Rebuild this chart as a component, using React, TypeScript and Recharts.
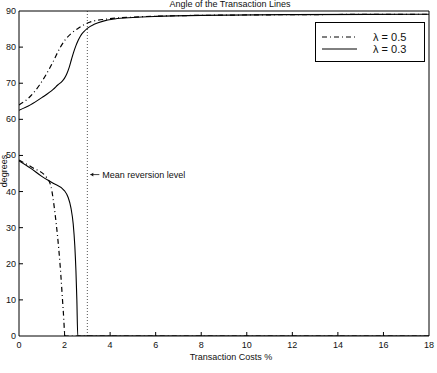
import React from "react";
import {
  ComposedChart,
  Line,
  XAxis,
  YAxis,
  ReferenceLine,
  Legend,
} from "recharts";

const xTicks = [0, 2, 4, 6, 8, 10, 12, 14, 16, 18];
const yTicks = [0, 10, 20, 30, 40, 50, 60, 70, 80, 90];
const meanReversionCost = 3;

// upper transaction line, lambda = 0.3 (solid)
const upperCosts03 = [0, 0.5, 1, 1.5, 1.7, 1.9, 2.0, 2.1, 2.2, 2.3, 2.4, 2.5, 2.6, 2.7, 2.85, 3.0, 3.3, 3.7, 4.2, 5, 6, 8, 12, 18];
const upperAngles03 = [62.5, 64, 66, 68.3, 69.5, 70.6, 71.4, 72.6, 74.3, 76.5, 78.6, 80.4, 81.9, 83.1, 84.3, 85.2, 86.3, 87.2, 87.8, 88.2, 88.5, 88.8, 89, 89.1];

// upper transaction line, lambda = 0.5 (dash-dot)
const upperCosts05 = [0, 0.35, 0.9, 1.2, 1.5, 1.8, 2.0, 2.3, 2.6, 3.1, 3.9, 5, 7, 10, 18];
const upperAngles05 = [64, 65.5, 69.5, 72.5, 76, 79.8, 81.8, 83.8, 85.2, 86.9, 87.8, 88.3, 88.7, 88.9, 89.1];

// lower transaction line, lambda = 0.3 (solid)
const lowerCosts03 = [0, 0.5, 1.0, 1.5, 2.0, 2.15, 2.28, 2.38, 2.45, 2.5, 2.54, 2.58, 4, 8, 12, 18];
const lowerAngles03 = [48.5, 46.5, 44.2, 42.3, 40.2, 38.5, 35.5, 31, 25, 18, 10, 0, 0, 0, 0, 0];

// lower transaction line, lambda = 0.5 (dash-dot)
const lowerCosts05 = [0, 0.6, 1.2, 1.4, 1.58, 1.8, 1.95, 2.02, 4, 8, 12, 18];
const lowerAngles05 = [48.7, 46.6, 44, 41.5, 34, 20, 6.3, 0, 0, 0, 0, 0];

const toPoints = (costs: number[], angles: number[]) =>
  costs.map((cost, i) => ({ cost, angle: angles[i] }));

const FONT = "'Liberation Sans', Arial, sans-serif";
const DASH_DOT = "5 3 1 3";

const BottomTick = (props: any) => {
  const { x, y, payload } = props;
  const edge = payload.value === 0 || payload.value === 18;
  return (
    <g>
      {!edge && <line x1={x} y1={y} x2={x} y2={y - 4} stroke="#000" strokeWidth={1} />}
      <text x={x} y={y + 12} textAnchor="middle" fontSize={9} fontFamily={FONT} fill="#111">
        {payload.value}
      </text>
    </g>
  );
};

const LeftTick = (props: any) => {
  const { x, y, payload } = props;
  const edge = payload.value === 0 || payload.value === 90;
  return (
    <g>
      {!edge && <line x1={x} y1={y} x2={x + 4} y2={y} stroke="#000" strokeWidth={1} />}
      <text x={x - 3} y={y + 3} textAnchor="end" fontSize={9} fontFamily={FONT} fill="#111">
        {payload.value}
      </text>
    </g>
  );
};

const MeanLabel = (props: any) => {
  const { viewBox } = props;
  const ty = viewBox.y + viewBox.height * (1 - 44.7 / 90);
  const ax = viewBox.x + 3;
  return (
    <g>
      <line x1={ax} y1={ty} x2={ax + 9} y2={ty} stroke="#111" strokeWidth={0.8} />
      <path d={`M${ax} ${ty} L${ax + 3} ${ty - 1.8} L${ax + 3} ${ty + 1.8} Z`} fill="#111" />
      <text x={ax + 12} y={ty + 3} fontSize={9} fontFamily={FONT} fill="#111">
        Mean reversion level
      </text>
    </g>
  );
};

const LegendBox = () => (
  <svg width={111} height={41}>
    <rect x={0.5} y={0.5} width={109} height={39} fill="#fff" stroke="#000" strokeWidth={1} />
    <line x1={7} y1={15} x2={42} y2={15} stroke="#000" strokeWidth={1} strokeDasharray={DASH_DOT} />
    <text x={58} y={19} fontSize={11} fontFamily={FONT} fill="#111">λ = 0.5</text>
    <line x1={7} y1={27} x2={42} y2={27} stroke="#000" strokeWidth={1} />
    <text x={58} y={31} fontSize={11} fontFamily={FONT} fill="#111">λ = 0.3</text>
  </svg>
);

export default function App() {
  return (
    <div style={{ position: "absolute", left: 0, top: 0, width: 437, height: 373, background: "#fff" }}>
      <ComposedChart width={437} height={373} margin={{ top: 11, right: 8, bottom: 0, left: 0 }}>
        <XAxis
          dataKey="cost"
          type="number"
          domain={[0, 18]}
          ticks={xTicks}
          height={37}
          tickSize={0}
          tickMargin={0}
          tickLine={false}
          tick={BottomTick}
          axisLine={{ stroke: "#000", strokeWidth: 1 }}
          allowDataOverflow
        />
        <XAxis
          xAxisId="top"
          orientation="top"
          dataKey="cost"
          type="number"
          domain={[0, 18]}
          ticks={xTicks.slice(1, -1)}
          height={1}
          mirror
          tick={false}
          tickSize={4}
          tickLine={{ stroke: "#000" }}
          axisLine={{ stroke: "#000", strokeWidth: 1 }}
          allowDataOverflow
        />
        <YAxis
          type="number"
          domain={[0, 90]}
          ticks={yTicks}
          width={19}
          tickSize={0}
          tickMargin={0}
          tickLine={false}
          tick={LeftTick}
          axisLine={{ stroke: "#000", strokeWidth: 1 }}
          allowDataOverflow
        />
        <YAxis
          yAxisId="right"
          orientation="right"
          type="number"
          domain={[0, 90]}
          ticks={yTicks.slice(1, -1)}
          width={1}
          mirror
          tick={false}
          tickSize={4}
          tickLine={{ stroke: "#000" }}
          axisLine={{ stroke: "#000", strokeWidth: 1 }}
          allowDataOverflow
        />
        <ReferenceLine
          x={meanReversionCost}
          stroke="#555"
          strokeWidth={1}
          strokeDasharray="1 2"
          label={MeanLabel}
        />
        <Line
          data={toPoints(upperCosts05, upperAngles05)}
          dataKey="angle"
          name="λ = 0.5"
          type="monotone"
          stroke="#000"
          strokeWidth={1.2}
          strokeDasharray={DASH_DOT}
          dot={false}
          isAnimationActive={false}
        />
        <Line
          data={toPoints(upperCosts03, upperAngles03)}
          dataKey="angle"
          name="λ = 0.3"
          type="monotone"
          stroke="#000"
          strokeWidth={1.1}
          dot={false}
          isAnimationActive={false}
        />
        <Line
          data={toPoints(lowerCosts05, lowerAngles05)}
          dataKey="angle"
          name="λ = 0.5 lower"
          type="monotone"
          stroke="#000"
          strokeWidth={1.2}
          strokeDasharray={DASH_DOT}
          dot={false}
          legendType="none"
          isAnimationActive={false}
        />
        <Line
          data={toPoints(lowerCosts03, lowerAngles03)}
          dataKey="angle"
          name="λ = 0.3 lower"
          type="monotone"
          stroke="#000"
          strokeWidth={1.1}
          dot={false}
          legendType="none"
          isAnimationActive={false}
        />
        <Legend
          layout="vertical"
          align="center"
          verticalAlign="middle"
          content={LegendBox}
          wrapperStyle={{ position: "absolute", left: 315, top: 22, width: 111, height: 41 }}
        />
        <text x={230} y={7} textAnchor="middle" fontSize={9} fontFamily={FONT} fill="#111">
          Angle of the Transaction Lines
        </text>
        <text x={231} y={360} textAnchor="middle" fontSize={9} fontFamily={FONT} fill="#111">
          Transaction Costs %
        </text>
        <text
          x={7}
          y={171}
          textAnchor="middle"
          fontSize={9}
          fontFamily={FONT}
          fill="#111"
          transform="rotate(-90 7 171)"
        >
          degrees
        </text>
      </ComposedChart>
    </div>
  );
}
